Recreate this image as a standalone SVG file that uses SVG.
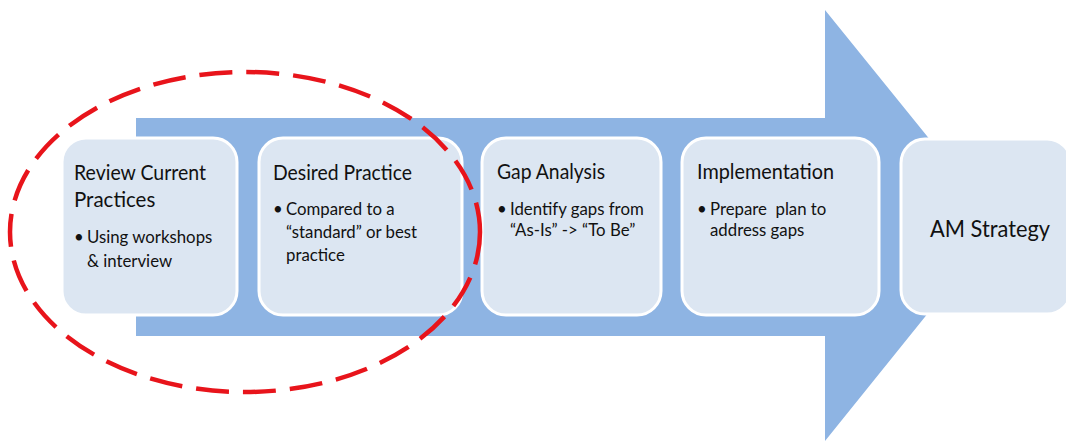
<svg xmlns="http://www.w3.org/2000/svg" width="1066" height="443" viewBox="0 0 1066 443">
  <style>
    .box { fill: #dce6f2; stroke: #ffffff; stroke-width: 3; }
    .title { font-family: Lato, "Liberation Sans", sans-serif; font-size: 20.5px; fill: #111111; }
    .body { font-family: Lato, "Liberation Sans", sans-serif; font-size: 16.8px; fill: #111111; }
    .big { font-family: Lato, "Liberation Sans", sans-serif; font-size: 23.5px; fill: #111111; }
    .pre { white-space: pre; }
  </style>
  <rect width="1066" height="443" fill="#ffffff"/>
  <!-- broad process arrow behind the steps -->
  <g id="connectors">
    <polygon points="136,118 825,118 825,10 999,225 825,441 825,336 136,336" fill="#8eb4e3"/>
  </g>
  <g id="step-review">
    <rect class="box" x="62" y="138" width="175" height="177" rx="24"/>
    <text class="title" x="74" y="180" textLength="132" lengthAdjust="spacingAndGlyphs">Review Current</text>
    <text class="title" x="74" y="207">Practices</text>
    <text class="body" x="74" y="243">•</text>
    <text class="body" x="87" y="243">Using workshops</text>
    <text class="body" x="87" y="267">&amp; interview</text>
  </g>
  <g id="step-desired">
    <rect class="box" x="259" y="138" width="203" height="177" rx="24"/>
    <text class="title" x="273" y="180" textLength="139" lengthAdjust="spacingAndGlyphs">Desired Practice</text>
    <text class="body" x="273" y="215">•</text>
    <text class="body" x="286" y="215">Compared to a</text>
    <text class="body" x="286" y="238">“standard” or best</text>
    <text class="body" x="286" y="261">practice</text>
  </g>
  <g id="step-gap">
    <rect class="box" x="482" y="138" width="179" height="177" rx="24"/>
    <text class="title" x="497" y="179" textLength="108" lengthAdjust="spacingAndGlyphs">Gap Analysis</text>
    <text class="body" x="497" y="215">•</text>
    <text class="body" x="510" y="215">Identify gaps from</text>
    <text class="body" x="510" y="236">“As-Is” -&gt; “To Be”</text>
  </g>
  <g id="step-implementation">
    <rect class="box" x="682" y="138" width="197" height="177" rx="24"/>
    <text class="title" x="697" y="179" textLength="137" lengthAdjust="spacingAndGlyphs">Implementation</text>
    <text class="body" x="697" y="215">•</text>
    <text class="body pre" x="710" y="215">Prepare  plan to</text>
    <text class="body" x="710" y="236">address gaps</text>
  </g>
  <g id="step-strategy">
    <rect class="box" x="901" y="139" width="170" height="175" rx="24"/>
    <text class="big" x="930" y="237" textLength="120" lengthAdjust="spacingAndGlyphs">AM Strategy</text>
  </g>
  <g id="focus-ring">
    <ellipse cx="245" cy="232" rx="235" ry="160" fill="none" stroke="#e8141b" stroke-width="4.5" stroke-dasharray="33 14"/>
  </g>
</svg>
